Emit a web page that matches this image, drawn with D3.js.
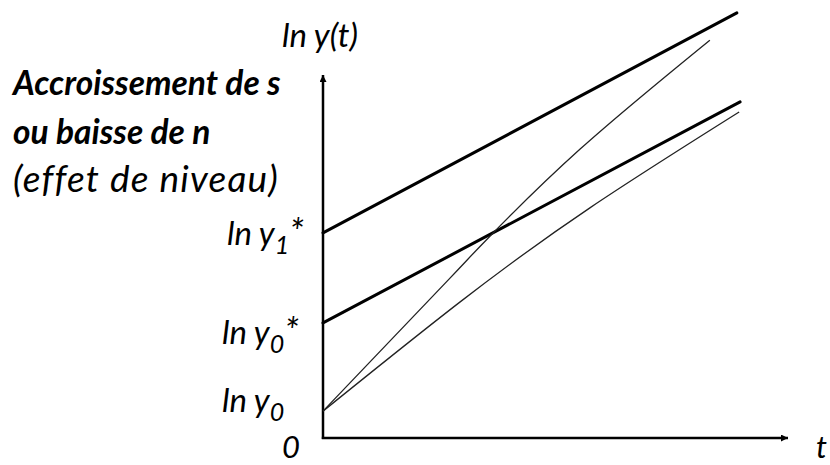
<!DOCTYPE html>
<html>
<head>
<meta charset="utf-8">
<script src="https://cdn.jsdelivr.net/npm/d3@7"></script>
<style>
  html, body { margin: 0; padding: 0; background: #fff; }
  svg { display: block; }
  text { font-family: Lato, "Open Sans", sans-serif; font-style: italic; fill: #000; }
</style>
</head>
<body>
<svg id="chart" width="830" height="465"></svg>
<script>
// Time axis and log-income axis, in model units
const tDomain = [0, 10];
const lnyDomain = [0, 10];

// Balanced growth paths (parallel, same growth rate): [t, ln y]
const steadyPathHigh = [[0, 5.65], [8.9, 11.71]];
const steadyPathLow  = [[0, 3.17], [8.97, 9.26]];

// Transition paths starting from ln y0
const transitionFast = [[0, 0.74], [2.69, 4.35], [3.59, 5.56], [5.53, 7.96], [8.32, 10.96]];
const transitionSlow = [[0, 0.74], [2.95, 3.75], [5.74, 6.34], [8.95, 8.98]];

// Levels marked on the vertical axis
const levelValues = [0, 0.74, 3.17, 5.65];
const levelLabels = [
  [{ t: "0" }],
  [{ t: "ln y" }, { t: "0", sub: true }],
  [{ t: "ln y" }, { t: "0", sub: true }, { t: "*" }],
  [{ t: "ln y" }, { t: "1", sub: true }, { t: "*" }]
];

// Side annotation
const noteLines = [
  { text: "Accroissement de s", bold: true },
  { text: "ou baisse de n", bold: true },
  { text: "(effet de niveau)", bold: false }
];

const svg = d3.select("#chart");
const x = d3.scaleLinear().domain(tDomain).range([323, 788]);
const y = d3.scaleLinear().domain(lnyDomain).range([438, 75]);

// Arrowhead marker
svg.append("defs").append("marker")
  .attr("id", "arrow")
  .attr("viewBox", "0 0 10 10")
  .attr("refX", 10).attr("refY", 5)
  .attr("markerWidth", 9).attr("markerHeight", 7)
  .attr("markerUnits", "userSpaceOnUse")
  .attr("orient", "auto")
  .append("path").attr("d", "M0,0L10,5L0,10Z").attr("fill", "#000");

// Axes
svg.append("line")
  .attr("x1", x(0)).attr("y1", y(0) + 1)
  .attr("x2", x(0)).attr("y2", y(lnyDomain[1]))
  .attr("stroke", "#000").attr("stroke-width", 2.5)
  .attr("marker-end", "url(#arrow)");
svg.append("line")
  .attr("x1", x(0) - 1.2).attr("y1", y(0))
  .attr("x2", x(tDomain[1])).attr("y2", y(0))
  .attr("stroke", "#000").attr("stroke-width", 2.5)
  .attr("marker-end", "url(#arrow)");

const line = d3.line().x(d => x(d[0])).y(d => y(d[1]));
const smooth = d3.line().x(d => x(d[0])).y(d => y(d[1])).curve(d3.curveNatural);

svg.selectAll("path.steady")
  .data([steadyPathHigh, steadyPathLow])
  .join("path")
  .attr("class", "steady")
  .attr("d", line)
  .attr("fill", "none").attr("stroke", "#000").attr("stroke-width", 3)
  .attr("stroke-linecap", "round");

svg.selectAll("path.transition")
  .data([transitionFast, transitionSlow])
  .join("path")
  .attr("class", "transition")
  .attr("d", smooth)
  .attr("fill", "none").attr("stroke", "#222").attr("stroke-width", 1.3);

// Axis titles
svg.append("text").attr("x", 282).attr("y", 47)
  .attr("font-size", 33).text("ln y(t)");
svg.append("text").attr("x", 816).attr("y", 458)
  .attr("font-size", 31).text("t");

// Level labels on the vertical axis
const labelX = [282, 222, 222, 227];
const labelNudge = [20, 1, 21, 12];
levelValues.forEach((v, i) => {
  const tx = svg.append("text")
    .attr("x", labelX[i]).attr("y", y(v) + labelNudge[i])
    .attr("font-size", i === 0 ? 31 : 33);
  levelLabels[i].forEach(part => {
    const s = tx.append("tspan").text(part.t);
    if (part.sub) s.attr("dy", 9).attr("font-size", 25);
    else if (part.t === "*") s.attr("dy", -9).attr("font-size", 37);
  });
});

// Annotation block
svg.selectAll("text.note")
  .data(noteLines)
  .join("text")
  .attr("class", "note")
  .attr("x", 13)
  .attr("y", (d, i) => 95 + i * 48.5)
  .attr("font-size", d => d.bold ? 33.5 : 37)
  .attr("letter-spacing", d => d.bold ? 0 : 1.2)
  .attr("font-weight", d => d.bold ? 700 : 400)
  .text(d => d.text);
</script>
</body>
</html>
